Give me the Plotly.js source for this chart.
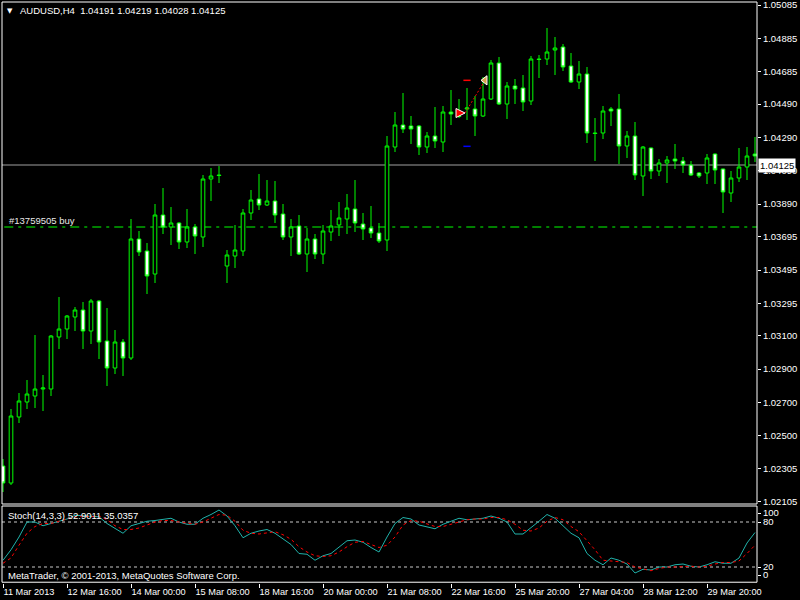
<!DOCTYPE html>
<html>
<head>
<meta charset="utf-8">
<script src="https://cdn.plot.ly/plotly-3.0.1.min.js"></script>
<style>html,body{margin:0;padding:0;background:#000;}#chart{width:800px;height:600px;}</style>
</head>
<body>
<div id="chart"></div>
<script>
// ---- Data (AUDUSD H4, bars 0..94) ----
const barIndex = Array.from({length: 95}, (_, i) => i);
const openPx = [
1.02319,1.02217,1.02613,1.02703,1.02739,1.02781,1.02781,1.03093,1.03141,1.03213,
1.03255,1.03129,1.03309,1.03069,1.02907,1.03063,1.02967,1.03681,1.03609,1.03471,
1.03825,1.03753,1.03777,1.03663,1.03753,1.03693,1.04041,1.04065,1.03519,1.03579,
1.03609,1.03837,1.03921,1.03885,1.03909,1.03831,1.03693,1.03759,1.03591,1.03681,
1.03591,1.03723,1.03765,1.03801,1.03861,1.03771,1.03747,1.03717,1.03675,1.04233,
1.04365,1.04359,1.04359,1.04233,1.04299,1.04263,1.04443,1.04419,1.04461,1.04461,
1.04419,1.04521,1.04737,1.04491,1.04599,1.04587,1.04509,1.04761,1.04761,1.04815,
1.04833,1.04719,1.04623,1.04671,1.04317,1.04317,1.04461,1.04461,1.04239,1.04299,
1.04059,1.04227,1.04089,1.04137,1.04161,1.04149,1.04125,1.04077,1.04077,1.04191,
1.04101,1.03957,1.04047,1.04113,1.04191];
const highPx = [
1.02361,1.02661,1.02757,1.02835,1.03105,1.02865,1.03105,1.03333,1.03225,1.03273,
1.03303,1.03321,1.03315,1.03267,1.03135,1.03081,1.03801,1.03729,1.03657,1.03891,
1.03987,1.03873,1.03783,1.03861,1.03771,1.04065,1.04107,1.04119,1.03615,1.03765,
1.03861,1.03975,1.04071,1.04035,1.04029,1.03891,1.03801,1.03825,1.03747,1.03711,
1.03765,1.03855,1.03903,1.03951,1.04035,1.03837,1.03879,1.03777,1.04299,1.04443,
1.04557,1.04419,1.04365,1.04323,1.04473,1.04479,1.04575,1.04521,1.04587,1.04539,
1.04653,1.04755,1.04773,1.04623,1.04641,1.04665,1.04779,1.04785,1.04947,1.04893,
1.04851,1.04797,1.04749,1.04713,1.04407,1.04479,1.04473,1.04551,1.04329,1.04383,
1.04239,1.04230,1.04161,1.04179,1.04251,1.04173,1.04149,1.04083,1.04191,1.04194,
1.04104,1.04089,1.04227,1.04233,1.04293];
const lowPx = [
1.02163,1.02205,1.02577,1.02661,1.02667,1.02649,1.02739,1.03021,1.03081,1.03129,
1.03021,1.03051,1.02961,1.02799,1.02871,1.02859,1.02955,1.03579,1.03351,1.03417,
1.03711,1.03645,1.03621,1.03627,1.03591,1.03633,1.03909,1.04017,1.03417,1.03507,
1.03579,1.03795,1.03855,1.03879,1.03777,1.03675,1.03579,1.03585,1.03483,1.03561,
1.03531,1.03669,1.03699,1.03711,1.03723,1.03675,1.03687,1.03657,1.03609,1.04203,
1.04317,1.04251,1.04185,1.04197,1.04227,1.04203,1.04365,1.04407,1.04395,1.04299,
1.04413,1.04515,1.04485,1.04401,1.04491,1.04449,1.04485,1.04647,1.04725,1.04665,
1.04689,1.04617,1.04581,1.04257,1.04149,1.04281,1.04359,1.04131,1.04167,1.04035,
1.03939,1.04041,1.04059,1.04017,1.04101,1.04077,1.04059,1.04047,1.04011,1.04011,
1.03837,1.03903,1.04023,1.04035,1.04143];
const closePx = [
1.02217,1.02619,1.02709,1.02751,1.02781,1.02787,1.03099,1.03141,1.03219,1.03255,
1.03129,1.03309,1.03063,1.02907,1.03063,1.02967,1.03681,1.03603,1.03459,1.03825,
1.03753,1.03777,1.03663,1.03753,1.03699,1.04041,1.04059,1.04062,1.03585,1.03615,
1.03837,1.03915,1.03885,1.03909,1.03825,1.03693,1.03753,1.03591,1.03681,1.03591,
1.03729,1.03759,1.03807,1.03867,1.03777,1.03741,1.03717,1.03669,1.04239,1.04365,
1.04341,1.04341,1.04233,1.04299,1.04269,1.04443,1.04431,1.04416,1.04467,1.04419,
1.04521,1.04737,1.04491,1.04599,1.04581,1.04503,1.04761,1.04758,1.04803,1.04827,
1.04713,1.04623,1.04671,1.04317,1.04314,1.04449,1.04449,1.04239,1.04299,1.04065,
1.04233,1.04089,1.04137,1.04155,1.04149,1.04125,1.04065,1.04059,1.04167,1.04095,
1.03963,1.04047,1.04113,1.04179,1.04179];

const stochMain = [
29,43,60,80,80,75,78,81,84,89, 88,88,87,78,72,65,75,78,81,82,
83,85,80,77,77,85,90,96,88,75, 59,65,68,70,65,58,50,38,37,29,
35,38,47,55,56,53,46,40,60,78, 86,84,76,74,71,77,81,85,83,84,
85,88,85,80,64,64,72,81,90,85, 75,65,59,38,29,23,32,29,24,12,
17,16,20,20,23,24,21,20,23,27, 25,25,32,52,66];
const stochSignal = [
25,32,49,65,74,78,78,81,84,87, 88,87,88,83,75,70,70,72,76,80,
82,82,80,79,77,80,85,90,89,81, 69,65,64,66,67,63,57,47,40,35,
34,35,40,47,53,54,50,46,49,60, 76,82,81,78,74,74,77,80,83,84,
84,86,86,83,77,69,68,72,81,86, 83,74,67,55,43,29,28,27,26,20,
17,15,18,20,20,21,21,20,21,24, 26,26,28,38,49];
const stochLevels = [80, 20];

const dateTickIdx = [0, 8, 16, 24, 32, 40, 48, 56, 64, 72, 80, 88];
const dateTickLabels = ["11 Mar 2013","12 Mar 16:00","14 Mar 00:00","15 Mar 08:00","18 Mar 16:00",
  "20 Mar 00:00","21 Mar 08:00","22 Mar 16:00","25 Mar 20:00","27 Mar 04:00","28 Mar 12:00","29 Mar 20:00"];
const priceTicks = [1.05085,1.04885,1.04685,1.04490,1.04290,1.04090,1.03890,1.03695,
  1.03495,1.03295,1.03100,1.02900,1.02700,1.02500,1.02305,1.02105];
const stochTickVals = [92, 80, 20, 9.3];
const stochTickText = ["100", "80", "20", "0"];

const bidPrice = 1.04125;
const orderPrice = 1.03753;
const orderLabel = "#13759505 buy";
const tradeIdx = [57.75, 60.25];
const tradePx = [1.04437, 1.04633];
const levelIdx = [57.55, 58.45];
const tpPrice = 1.04633;
const slPrice = 1.04237;
const headerText = "AUDUSD,H4  1.04191 1.04219 1.04028 1.04125";
const stochText = "Stoch(14,3,3) 52.9011 35.0357";
const copyrightText = "MetaTrader, \u00a9 2001-2013, MetaQuotes Software Corp.";

// ---- Layout geometry ----
const FONT = "Liberation Sans, Arial, sans-serif";
const PH = 581; // plot height in px
const mainDomain = [79 / PH, 1];
const subDomain = [0, 77 / PH];
const py = p => (583 - p) / PH;     // pixel y -> paper
const px = p => (p - 2) / 755;       // pixel x -> paper
const LIME = "#00ff00";

const traces = [
  {
    type: "candlestick", x: barIndex, open: openPx, high: highPx, low: lowPx, close: closePx,
    xaxis: "x", yaxis: "y", whiskerwidth: 0, hoverinfo: "skip",
    increasing: {line: {color: LIME, width: 1}, fillcolor: "#000000"},
    decreasing: {line: {color: LIME, width: 1}, fillcolor: "#ffffff"}
  },
  { type: "scatter", mode: "lines", x: levelIdx, y: [tpPrice, tpPrice], xaxis: "x", yaxis: "y",
    line: {color: "#ff0000", width: 1.5}, hoverinfo: "skip" },
  { type: "scatter", mode: "lines", x: levelIdx, y: [slPrice, slPrice], xaxis: "x", yaxis: "y",
    line: {color: "#0000ff", width: 1.5}, hoverinfo: "skip" },
  { type: "scatter", mode: "lines", x: tradeIdx, y: tradePx, xaxis: "x", yaxis: "y",
    line: {color: "#ff0000", width: 1, dash: "2px,2px"}, hoverinfo: "skip" },
  { type: "scatter", mode: "markers", x: [tradeIdx[0]], y: [tradePx[0]], xaxis: "x", yaxis: "y",
    marker: {symbol: "arrow-right", size: 9, color: "#ff0000", line: {color: "#ffffff", width: 1}}, hoverinfo: "skip" },
  { type: "scatter", mode: "markers", x: [tradeIdx[1]], y: [tradePx[1]], xaxis: "x", yaxis: "y",
    marker: {symbol: "triangle-left", size: 8, color: "#d9a24a", line: {color: "#ffffff", width: 1}}, hoverinfo: "skip" },
  { type: "scatter", mode: "lines", x: barIndex, y: stochMain, xaxis: "x", yaxis: "y2",
    line: {color: "#20b2aa", width: 1}, hoverinfo: "skip" },
  { type: "scatter", mode: "lines", x: barIndex, y: stochSignal, xaxis: "x", yaxis: "y2",
    line: {color: "#ff0000", width: 1, dash: "dot"}, hoverinfo: "skip" }
];

const shapes = [
  {type: "line", xref: "x domain", yref: "y", x0: 0, x1: 1, y0: bidPrice, y1: bidPrice,
   line: {color: "#a0a0a0", width: 1}, layer: "below"},
  {type: "line", xref: "x domain", yref: "y", x0: 0.003, x1: 1, y0: orderPrice, y1: orderPrice,
   line: {color: LIME, width: 1, dash: "9px,5px,3px,5px"}, layer: "below"},
  {type: "rect", xref: "x domain", yref: "y domain", x0: 0, x1: 1, y0: 0, y1: 1,
   line: {color: "#ffffff", width: 1}},
  {type: "rect", xref: "x domain", yref: "y2 domain", x0: 0, x1: 1, y0: 0.01, y1: 1,
   line: {color: "#ffffff", width: 1}}
];
stochLevels.forEach(v => shapes.push({type: "line", xref: "x domain", yref: "y2", x0: 0, x1: 1, y0: v, y1: v,
  line: {color: "#c8c8c8", width: 1, dash: "3px,3px"}, layer: "below"}));

const annotations = [
  {text: "\u25bc", xref: "paper", yref: "paper", x: px(10), y: py(11), xanchor: "center", yanchor: "middle",
   showarrow: false, font: {family: "DejaVu Sans", size: 7, color: "#ffffff"}},
  {text: headerText, xref: "paper", yref: "paper", x: px(17.5), y: py(11), xanchor: "left", yanchor: "middle",
   showarrow: false, font: {family: FONT, size: 9.5, color: "#ffffff"}},
  {text: orderLabel, xref: "paper", yref: "y", x: px(6.5), y: orderPrice, yshift: 7, xanchor: "left", yanchor: "middle",
   showarrow: false, font: {family: FONT, size: 9.5, color: "#e8e8e8"}},
  {text: stochText, xref: "paper", yref: "paper", x: px(5.5), y: py(515.5), xanchor: "left", yanchor: "middle",
   showarrow: false, font: {family: FONT, size: 9.5, color: "#ffffff"}},
  {text: copyrightText, xref: "paper", yref: "paper", x: px(5.5), y: py(575), xanchor: "left", yanchor: "middle",
   showarrow: false, font: {family: FONT, size: 9.5, color: "#ffffff"}},
  {text: bidPrice.toFixed(5), xref: "paper", yref: "y", x: 1, xshift: 1, y: bidPrice, xanchor: "left", yanchor: "middle",
   showarrow: false, bgcolor: "#ffffff", borderpad: 1, font: {family: FONT, size: 9.5, color: "#000000"}}
];

const layout = {
  width: 800, height: 600,
  margin: {l: 2, r: 43, t: 2, b: 17},
  paper_bgcolor: "#000000", plot_bgcolor: "#000000",
  showlegend: false, boxgap: 0.35,
  font: {family: FONT, size: 9.5, color: "#ffffff"},
  xaxis: {
    anchor: "y2", range: [-0.125, 94.25], rangeslider: {visible: false},
    showgrid: false, zeroline: false, showline: false,
    tickmode: "array", tickvals: dateTickIdx, ticktext: dateTickLabels,
    ticks: "outside", ticklen: 4, tickcolor: "#ffffff", tickwidth: 1,
    ticklabelposition: "outside right",
    tickfont: {family: FONT, size: 9.2, color: "#ffffff"}
  },
  yaxis: {
    domain: mainDomain, anchor: "x", side: "right", range: [1.02091, 1.05103],
    showgrid: false, zeroline: false, showline: false,
    tickmode: "array", tickvals: priceTicks, ticktext: priceTicks.map(v => v.toFixed(5)),
    ticks: "outside", ticklen: 3, tickcolor: "#ffffff", ticklabeloverflow: "allow",
    tickfont: {family: FONT, size: 9.5, color: "#ffffff"}
  },
  yaxis2: {
    domain: subDomain, anchor: "x", side: "right", range: [-1.333, 101.333],
    showgrid: false, zeroline: false, showline: false,
    tickmode: "array", tickvals: stochTickVals, ticktext: stochTickText,
    ticks: "outside", ticklen: 3, tickcolor: "#ffffff", ticklabeloverflow: "allow",
    tickfont: {family: FONT, size: 9.5, color: "#ffffff"}
  },
  shapes: shapes,
  annotations: annotations
};

Plotly.newPlot("chart", traces, layout, {staticPlot: true, displayModeBar: false});
</script>
</body>
</html>
